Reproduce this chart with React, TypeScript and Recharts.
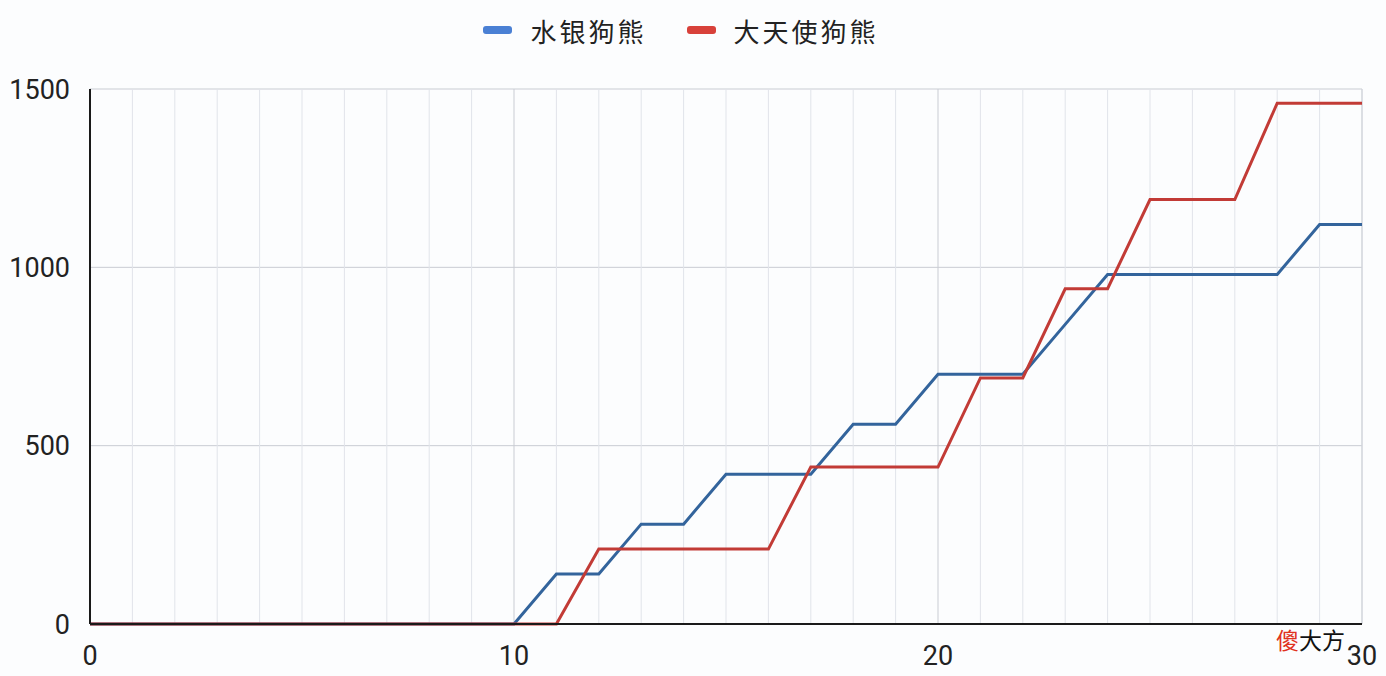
import React from "react";
import {
  LineChart, Line, XAxis, YAxis, CartesianGrid, Legend, ReferenceLine,
} from "recharts";

// x positions (integer steps 0..30)
const DAYS = [
  0, 1, 2, 3, 4, 5, 6, 7, 8, 9, 10, 11, 12, 13, 14, 15,
  16, 17, 18, 19, 20, 21, 22, 23, 24, 25, 26, 27, 28, 29, 30,
];
const MERCURY = [
  0, 0, 0, 0, 0, 0, 0, 0, 0, 0, 0, 140, 140, 280, 280, 420,
  420, 420, 560, 560, 700, 700, 700, 840, 980, 980, 980, 980, 980, 1120, 1120,
];
const ARCHANGEL = [
  0, 0, 0, 0, 0, 0, 0, 0, 0, 0, 0, 0, 210, 210, 210, 210,
  210, 440, 440, 440, 440, 690, 690, 940, 940, 1190, 1190, 1190, 1460, 1460, 1460,
];
const X_TICKS = [0, 10, 20, 30];
const Y_TICKS = [0, 500, 1000, 1500];
const MAJOR_X = [10, 20];
const SERIES = [
  { key: "mercury", name: "水银狗熊", line: "#33649c", icon: "#4a80d4" },
  { key: "archangel", name: "大天使狗熊", line: "#c23b36", icon: "#d8413a" },
];

const data = DAYS.map((d, i) => ({ d, mercury: MERCURY[i], archangel: ARCHANGEL[i] }));

const FONT = "Roboto, 'Noto Sans CJK SC', 'Liberation Sans', sans-serif";

function LegendBox() {
  return (
    <div style={{ height: 79, display: "flex", justifyContent: "center", alignItems: "flex-start" }}>
      {SERIES.map((s) => (
        <div key={s.key} style={{ display: "flex", alignItems: "center", height: 40, margin: "0 20px" }}>
          <span style={{ width: 29, height: 8, borderRadius: 3, background: s.icon, marginRight: 18 }} />
          <span style={{ fontFamily: FONT, fontSize: 26, letterSpacing: 3, color: "#222" }}>{s.name}</span>
        </div>
      ))}
    </div>
  );
}

export default function App() {
  return (
    <div style={{ position: "absolute", left: 0, top: 0, width: 1386, height: 676, background: "#fcfdfe", fontFamily: FONT }}>
      <LineChart width={1386} height={676} data={data} margin={{ top: 10, right: 24, left: 0, bottom: 0 }}>
        <CartesianGrid vertical={false} stroke="#c9ccd3" strokeWidth={1} />
        {DAYS.filter((d) => d > 0 && !MAJOR_X.includes(d)).map((d) => (
          <ReferenceLine key={d} x={d} stroke="#e1e4ea" strokeWidth={1} />
        ))}
        {MAJOR_X.map((d) => (
          <ReferenceLine key={"m" + d} x={d} stroke="#c9ccd3" strokeWidth={1} />
        ))}
        <ReferenceLine x={30} stroke="#c9ccd3" strokeWidth={1} />
        <XAxis
          dataKey="d" type="number" domain={[0, 30]} ticks={X_TICKS} height={52}
          axisLine={{ stroke: "#1a1a1a", strokeWidth: 2 }} tickLine={false} tickMargin={16}
          tick={{ fontSize: 27, fill: "#222", fontFamily: FONT }}
        />
        <YAxis
          type="number" domain={[0, 1500]} ticks={Y_TICKS} width={90}
          axisLine={{ stroke: "#1a1a1a", strokeWidth: 2 }} tickLine={false} tickMargin={14}
          tick={{ fontSize: 27, fill: "#222", fontFamily: FONT }}
        />
        <Legend verticalAlign="top" align="center" content={() => <LegendBox />} />
        {SERIES.map((s) => (
          <Line
            key={s.key} type="linear" dataKey={s.key} name={s.name} stroke={s.line}
            strokeWidth={3} dot={false} activeDot={false} isAnimationActive={false}
          />
        ))}
      </LineChart>
      <div style={{ position: "absolute", left: 1276, top: 626, fontSize: 23, fontFamily: "'Noto Sans CJK SC', sans-serif", lineHeight: "26px" }}>
        <span style={{ color: "#e0321f" }}>傻</span>
        <span style={{ color: "#111" }}>大方</span>
      </div>
    </div>
  );
}
